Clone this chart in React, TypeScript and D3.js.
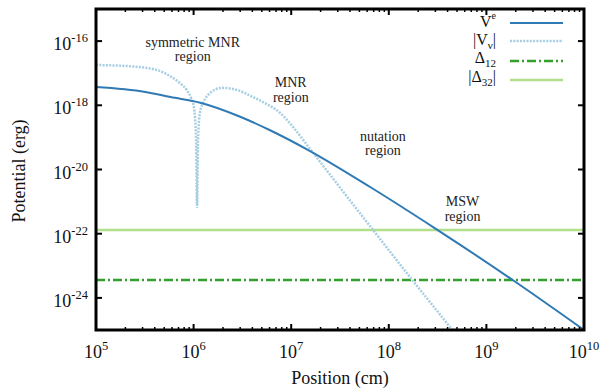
import React from "react";
import * as d3 from "d3";

// ---- data ----
const vePos = [1e5, 3.2e5, 5.8e5, 1.17e6, 3.0e6, 6.0e6, 1.48e7, 6.5e7, 2.95e8, 5.4e8, 1.86e9, 1e10];
const veVal = [3.7e-18, 2.6e-18, 1.8e-18, 1.2e-18, 4.4e-19, 1.7e-19, 4.1e-20, 2.8e-21, 1.5e-22, 4.5e-23, 3.6e-24, 1e-25];

const vnuPos = [1e5, 2.2e5, 4.2e5, 5.75e5, 7.25e5, 8.5e5, 9.4e5, 1.01e6, 1.06e6, 1.085e6, 1.11e6, 1.165e6, 1.25e6, 1.47e6, 1.95e6, 2.79e6, 4.07e6, 5.6e6, 7.7e6, 1.09e7, 1.48e7, 6.9e7, 1.74e8, 4.3e8, 5.6e8];
const vnuVal = [1.8e-17, 1.65e-17, 1.26e-17, 8.1e-18, 4.9e-18, 3.0e-18, 1.7e-18, 8.3e-19, 8.3e-20, 6.8e-22, 8.3e-20, 6.2e-19, 1.17e-18, 2.4e-18, 3.5e-18, 3.0e-18, 1.8e-18, 1.1e-18, 5.8e-19, 1.8e-19, 5.4e-20, 1.3e-22, 3.6e-24, 1.15e-25, 4e-26];

const delta12 = 3.6e-24;
const delta32 = 1.3e-22;

const xTickExps = [5, 6, 7, 8, 9, 10];
const yTickExps = [-16, -18, -20, -22, -24];

const regionLabels = [
  { lines: ["symmetric MNR", "region"], pos: 9.8e5, val: 6.6e-17 },
  { lines: ["MNR", "region"], pos: 9.9e6, val: 3.7e-18 },
  { lines: ["nutation", "region"], pos: 8.7e7, val: 7.8e-20 },
  { lines: ["MSW", "region"], pos: 5.7e8, val: 7.2e-22 },
];

const W = 603;
const H = 390;
const L = 96, R = 584, T = 9, B = 330;
const FONT = "'Liberation Serif', 'Times New Roman', serif";

export default function App() {
  const x = d3.scaleLog().domain([1e5, 1e10]).range([L, R]);
  const y = d3.scaleLog().domain([1e-25, 1e-15]).range([B, T]);

  const line = d3
    .line<[number, number]>()
    .x((d) => x(d[0]))
    .y((d) => y(d[1]))
    .curve(d3.curveMonotoneX);

  const vePath = line(vePos.map((p, i) => [p, veVal[i]]))!;
  const vnuPath = line(vnuPos.map((p, i) => [p, vnuVal[i]]))!;

  const minor: number[] = [];
  for (let e = 5; e < 10; e++) for (let k = 2; k <= 9; k++) minor.push(k * Math.pow(10, e));

  const dashDot = "9 3 2 3";

  const legend = [
    { key: "ve", stroke: "#2f7ab4", dash: undefined as string | undefined, w: 2 },
    { key: "vnu", stroke: "#a6cee3", dash: "2 1.3", w: 2.5 },
    { key: "d12", stroke: "#33a02c", dash: dashDot, w: 2.5 },
    { key: "d32", stroke: "#b2df8a", dash: undefined, w: 2.5 },
  ];
  const legBase = [27, 45, 63, 82];
  const legLine = [23, 41, 61, 80];

  return (
    <svg width={W} height={H} style={{ position: "absolute", left: 0, top: 0, background: "#fff", fontFamily: FONT }}>
      <defs>
        <clipPath id="plotClip">
          <rect x={L} y={T} width={R - L} height={B - T} />
        </clipPath>
      </defs>
      <rect x={0} y={0} width={W} height={H} fill="#fff" />

      <g clipPath="url(#plotClip)">
        <line x1={L} x2={R} y1={y(delta32)} y2={y(delta32)} stroke="#b2df8a" strokeWidth={2.5} />
        <line x1={L} x2={R} y1={y(delta12)} y2={y(delta12)} stroke="#33a02c" strokeWidth={2.5} strokeDasharray={dashDot} />
        <path d={vnuPath} fill="none" stroke="#a6cee3" strokeWidth={2.5} strokeDasharray="2 1.3" />
        <path d={vePath} fill="none" stroke="#2f7ab4" strokeWidth={2} />
      </g>

      {/* region labels */}
      {regionLabels.map((r, i) => (
        <g key={i} fontSize={14} fill="#222" textAnchor="middle">
          {r.lines.map((ln, j) => (
            <text key={j} x={x(r.pos)} y={y(r.val) + j * 14.5}>
              {ln}
            </text>
          ))}
        </g>
      ))}

      {/* legend */}
      {legend.map((l, i) => (
        <line key={l.key} x1={510} x2={563} y1={legLine[i]} y2={legLine[i]} stroke={l.stroke} strokeWidth={l.w} strokeDasharray={l.dash} />
      ))}
      <g fontSize={16} fill="#111" textAnchor="end">
        <text x={496} y={legBase[0]}>
          V<tspan fontSize={10} dy={-8}>e</tspan>
        </text>
        <text x={496} y={legBase[1]}>
          |V<tspan fontSize={11} dy={4}>ν</tspan>
          <tspan dy={-4}>|</tspan>
        </text>
        <text x={496} y={legBase[2]}>
          Δ<tspan fontSize={11} dy={4}>12</tspan>
        </text>
        <text x={496} y={legBase[3]}>
          |Δ<tspan fontSize={11} dy={4}>32</tspan>
          <tspan dy={-4}>|</tspan>
        </text>
      </g>

      {/* ticks */}
      <g stroke="#000" strokeWidth={2}>
        {xTickExps.map((e) => {
          const px = x(Math.pow(10, e));
          return (
            <g key={e}>
              <line x1={px} x2={px} y1={B} y2={B - 6} />
              <line x1={px} x2={px} y1={T} y2={T + 6} />
            </g>
          );
        })}
        {minor.map((m, i) => {
          const px = x(m);
          return (
            <g key={i}>
              <line x1={px} x2={px} y1={B} y2={B - 3} strokeWidth={1.5} />
              <line x1={px} x2={px} y1={T} y2={T + 3} strokeWidth={1.5} />
            </g>
          );
        })}
        {yTickExps.map((e) => {
          const py = y(Math.pow(10, e));
          return (
            <g key={e}>
              <line x1={L} x2={L + 6} y1={py} y2={py} />
              <line x1={R} x2={R - 6} y1={py} y2={py} />
            </g>
          );
        })}
      </g>

      {/* frame */}
      <rect x={L} y={T} width={R - L} height={B - T} fill="none" stroke="#000" strokeWidth={3} />

      {/* tick labels */}
      <g fontSize={18} fill="#111">
        {xTickExps.map((e) => (
          <text key={e} x={x(Math.pow(10, e))} y={358} textAnchor="middle">
            10<tspan fontSize={12.5} dy={-8}>{e}</tspan>
          </text>
        ))}
        {yTickExps.map((e) => (
          <text key={e} x={88} y={y(Math.pow(10, e)) + 9} textAnchor="end">
            10<tspan fontSize={12.5} dy={-8}>{"-" + Math.abs(e)}</tspan>
          </text>
        ))}
      </g>

      {/* axis titles */}
      <text x={(L + R) / 2} y={384} textAnchor="middle" fontSize={18} fill="#111">
        Position (cm)
      </text>
      <text transform={`translate(25,171) rotate(-90)`} textAnchor="middle" fontSize={18} fill="#111">
        Potential (erg)
      </text>
    </svg>
  );
}
